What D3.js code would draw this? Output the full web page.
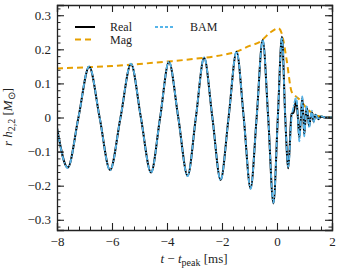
<!DOCTYPE html>
<html>
<head>
<meta charset="utf-8">
<script src="https://cdn.jsdelivr.net/npm/d3@7"></script>
<style>
  body { margin: 0; background: white; }
  svg text { font-family: "Liberation Serif", "Times New Roman", serif !important; fill: #222; }
</style>
</head>
<body>
<script>
var w = 341;
var h = 274;
var margin = {left: 57, right: 9, top: 5, bottom: 44};

// waveform: extrema and zero crossings
var realT = [-8, -7.61, -7.22, -6.83, -6.45, -6.07, -5.69, -5.31, -4.95, -4.58, -4.25, -3.93, -3.59, -3.25,
  -2.95, -2.65, -2.35, -2.05, -1.76, -1.47, -1.21, -0.96, -0.74, -0.52, -0.32, -0.13, 0.03, 0.18, 0.30, 0.41,
  0.53, 0.60, 0.70, 0.76, 0.81, 0.87, 0.92, 0.96, 0.99, 1.04, 1.08, 1.13, 1.17, 1.22, 1.27, 1.33, 1.40, 1.50, 1.60, 1.75, 2.0];
var realH = [-0.03, -0.147, 0, 0.149, 0, -0.154, 0, 0.157, 0, -0.161, 0, 0.163, 0, -0.171,
  0, 0.175, 0, -0.183, 0, 0.193, 0, -0.208, 0, 0.227, 0, -0.252, 0, 0.237, 0, -0.149,
  0.01, 0.015, 0.05, 0, -0.06, 0, 0.058, 0, -0.05, 0, 0.03, 0, -0.025, 0, 0.015, -0.012, 0.008, -0.005, 0.003, 0, 0];
var bamH = [-0.03, -0.148, 0, 0.150, 0, -0.155, 0, 0.158, 0, -0.162, 0, 0.164, 0, -0.172,
  0, 0.176, 0, -0.184, 0, 0.194, 0, -0.209, 0, 0.228, 0, -0.25, 0, 0.235, 0, -0.145,
  0.0, 0.03, 0.06, 0, -0.07, 0, 0.062, 0, -0.055, 0, 0.035, 0, -0.03, 0, 0.02, -0.015, 0.01, -0.006, 0.004, 0, 0];
var magT = [-8, -7, -6, -5, -4, -3, -2, -1.5, -1, -0.62, -0.25, 0.05, 0.17, 0.35, 0.53, 0.65, 0.84, 1.08, 1.44, 2.0];
var magH = [0.144, 0.147, 0.151, 0.157, 0.164, 0.172, 0.183, 0.192, 0.21, 0.222, 0.249, 0.262, 0.247, 0.169, 0.076, 0.065, 0.051, 0.027, 0.005, 0];

var xTicks = [-8, -6, -4, -2, 0, 2];
var yTicks = [-0.3, -0.2, -0.1, 0, 0.1, 0.2, 0.3];

var svg = d3.select("body").append("svg")
  .attr("width", w)
  .attr("height", h);

var x = d3.scaleLinear().domain([-8, 2]).range([margin.left, w - margin.right]);
var y = d3.scaleLinear().domain([-0.33, 0.33]).range([h - margin.bottom, margin.top]);

svg.append("clipPath").attr("id", "clip")
  .append("rect")
  .attr("x", x(-8)).attr("y", y(0.33))
  .attr("width", x(2) - x(-8)).attr("height", y(-0.33) - y(0.33));

var plot = svg.append("g").attr("clip-path", "url(#clip)");

function pts(ts, hs) {
  return ts.map(function (t, i) { return [t, hs[i]]; });
}
var line = d3.line()
  .x(function (d) { return x(d[0]); })
  .y(function (d) { return y(d[1]); })
  .curve(d3.curveMonotoneX);

plot.append("path")
  .attr("d", line(pts(magT, magH)))
  .attr("fill", "none")
  .attr("stroke", "#e69f00")
  .attr("stroke-width", 2)
  .attr("stroke-dasharray", "6,4");

plot.append("path")
  .attr("d", line(pts(realT, realH)))
  .attr("fill", "none")
  .attr("stroke", "black")
  .attr("stroke-width", 2);

plot.append("path")
  .attr("d", line(pts(realT, bamH)))
  .attr("fill", "none")
  .attr("stroke", "#56b4e9")
  .attr("stroke-width", 1.8)
  .attr("stroke-dasharray", "5,1.5,1.5,1.5");

// axes with inward ticks on all four sides
function fmt(d) {
  return d === 0 ? "0" : (d < 0 ? "\u2212" + d3.format("")(-d) : d3.format("")(d));
}
var xMinor = d3.range(-8, 2.001, 0.4);
var yMinor = d3.range(-0.32, 0.321, 0.02);
var axes = [
  d3.axisBottom(x).tickValues(xTicks).tickSize(-7).tickPadding(7).tickFormat(fmt),
  d3.axisTop(x).tickValues(xTicks).tickSize(-7).tickFormat(""),
  d3.axisLeft(y).tickValues(yTicks).tickSize(-7).tickPadding(6).tickFormat(fmt),
  d3.axisRight(y).tickValues(yTicks).tickSize(-7).tickFormat("")
];
var minor = [
  d3.axisBottom(x).tickValues(xMinor).tickSize(-3.5).tickFormat(""),
  d3.axisTop(x).tickValues(xMinor).tickSize(-3.5).tickFormat(""),
  d3.axisLeft(y).tickValues(yMinor).tickSize(-3.5).tickFormat(""),
  d3.axisRight(y).tickValues(yMinor).tickSize(-3.5).tickFormat("")
];
var shifts = ["translate(0," + y(-0.33) + ")", "translate(0," + y(0.33) + ")",
  "translate(" + x(-8) + ",0)", "translate(" + x(2) + ",0)"];

for (var i = 0; i < 4; i++) {
  svg.append("g").attr("transform", shifts[i]).call(minor[i])
    .call(function (g) { g.select(".domain").remove(); g.selectAll("text").remove(); })
    .selectAll("line").attr("stroke", "#222").attr("stroke-width", 1);
  var g = svg.append("g").attr("transform", shifts[i]).call(axes[i])
    .attr("font-family", null).attr("font-size", null);
  g.select(".domain").attr("stroke", "#222").attr("stroke-width", 1.3);
  g.selectAll("line").attr("stroke", "#222").attr("stroke-width", 1.1);
  if (i === 1 || i === 3) g.selectAll("text").remove();
  g.selectAll("text").attr("font-size", 13).attr("fill", "#222");
}

// axis titles
var xl = svg.append("text")
  .attr("x", 194).attr("y", 263)
  .attr("text-anchor", "middle").attr("font-size", 13);
xl.append("tspan").attr("font-style", "italic").text("t");
xl.append("tspan").text(" \u2212 ");
xl.append("tspan").attr("font-style", "italic").text("t");
xl.append("tspan").attr("font-size", 10).attr("dy", 3).text("peak");
xl.append("tspan").attr("dy", -3).text(" [ms]");

var yl = svg.append("text")
  .attr("transform", "translate(12,117) rotate(-90)")
  .attr("text-anchor", "middle").attr("font-size", 13);
yl.append("tspan").attr("font-style", "italic").text("r h");
yl.append("tspan").attr("font-size", 10).attr("dy", 3).text("2,2");
yl.append("tspan").attr("dy", -3).text(" [");
yl.append("tspan").attr("font-style", "italic").text("M");
yl.append("tspan").attr("font-size", 10).attr("dy", 3).text("\u2299");
yl.append("tspan").attr("dy", -3).text("]");

// legend
var legendNames = ["Real", "BAM", "Mag"];
var legendColors = ["black", "#56b4e9", "#e69f00"];
var legendDash = [null, "3,2", "6,4"];
var legendPos = [[75, 27], [155, 27], [75, 39.5]];
legendNames.forEach(function (n, i) {
  var p = legendPos[i];
  svg.append("line")
    .attr("x1", p[0]).attr("x2", p[0] + 20)
    .attr("y1", p[1]).attr("y2", p[1])
    .attr("stroke", legendColors[i]).attr("stroke-width", 2)
    .attr("stroke-dasharray", legendDash[i]);
  svg.append("text")
    .attr("x", p[0] + 35).attr("y", p[1] + 4)
    .attr("font-size", 12).text(n);
});
</script>
</body>
</html>
